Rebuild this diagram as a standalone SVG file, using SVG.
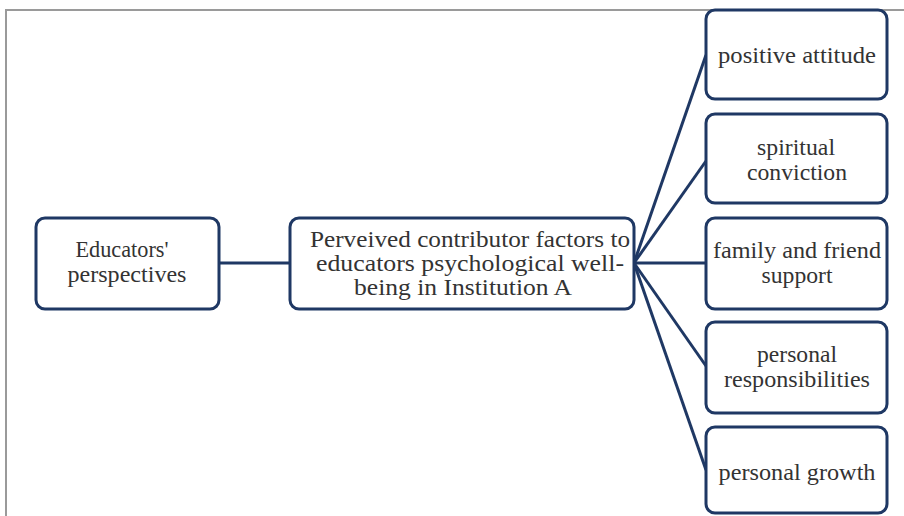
<svg xmlns="http://www.w3.org/2000/svg" width="904" height="516" viewBox="0 0 904 516">
<style>
.box{fill:#fff;stroke:#1f3864;stroke-width:3}
.lbl{font-family:"Liberation Serif","DejaVu Serif",serif;font-size:23px;fill:#333;text-anchor:middle}
.con{stroke:#1f3864;stroke-width:3;fill:none}
</style>
<rect width="904" height="516" fill="#fff"/>
<g id="frame"><line x1="5" y1="10" x2="904" y2="10" stroke="#9a9a9a" stroke-width="2"/><line x1="6" y1="10" x2="6" y2="516" stroke="#9a9a9a" stroke-width="2"/></g>
<g id="connectors">
<line class="con" x1="219" y1="263" x2="290" y2="263"/>
<line class="con" x1="634" y1="263" x2="706" y2="55"/>
<line class="con" x1="634" y1="263" x2="706" y2="161"/>
<line class="con" x1="634" y1="263" x2="706" y2="263"/>
<line class="con" x1="634" y1="263" x2="706" y2="366"/>
<line class="con" x1="634" y1="263" x2="706" y2="470"/>
</g>
<g id="n1"><rect class="box" x="36" y="218" width="183" height="91" rx="9"/><text class="lbl" x="122" y="257" textLength="93" lengthAdjust="spacingAndGlyphs">Educators'</text><text class="lbl" x="127" y="282" textLength="119" lengthAdjust="spacingAndGlyphs">perspectives</text></g>
<g id="n2"><rect class="box" x="290" y="218" width="344" height="91" rx="9"/><text class="lbl" x="470" y="247" textLength="320" lengthAdjust="spacingAndGlyphs">Perveived contributor factors to</text><text class="lbl" x="470" y="271" textLength="308" lengthAdjust="spacingAndGlyphs">educators psychological well-</text><text class="lbl" x="463" y="295" textLength="218" lengthAdjust="spacingAndGlyphs">being in Institution A</text></g>
<g id="n3"><rect class="box" x="706" y="10" width="181" height="89" rx="9"/><text class="lbl" x="797" y="63" textLength="158" lengthAdjust="spacingAndGlyphs">positive attitude</text></g>
<g id="n4"><rect class="box" x="706" y="114" width="181" height="89" rx="9"/><text class="lbl" x="796" y="155" textLength="78" lengthAdjust="spacingAndGlyphs">spiritual</text><text class="lbl" x="797" y="180" textLength="100" lengthAdjust="spacingAndGlyphs">conviction</text></g>
<g id="n5"><rect class="box" x="706" y="218" width="181" height="91" rx="9"/><text class="lbl" x="797" y="258" textLength="168" lengthAdjust="spacingAndGlyphs">family and friend</text><text class="lbl" x="797" y="283" textLength="71" lengthAdjust="spacingAndGlyphs">support</text></g>
<g id="n6"><rect class="box" x="706" y="322" width="181" height="91" rx="9"/><text class="lbl" x="797" y="362" textLength="80" lengthAdjust="spacingAndGlyphs">personal</text><text class="lbl" x="797" y="387" textLength="146" lengthAdjust="spacingAndGlyphs">responsibilities</text></g>
<g id="n7"><rect class="box" x="706" y="427" width="181" height="86" rx="9"/><text class="lbl" x="797" y="480" textLength="157" lengthAdjust="spacingAndGlyphs">personal growth</text></g>
</svg>
